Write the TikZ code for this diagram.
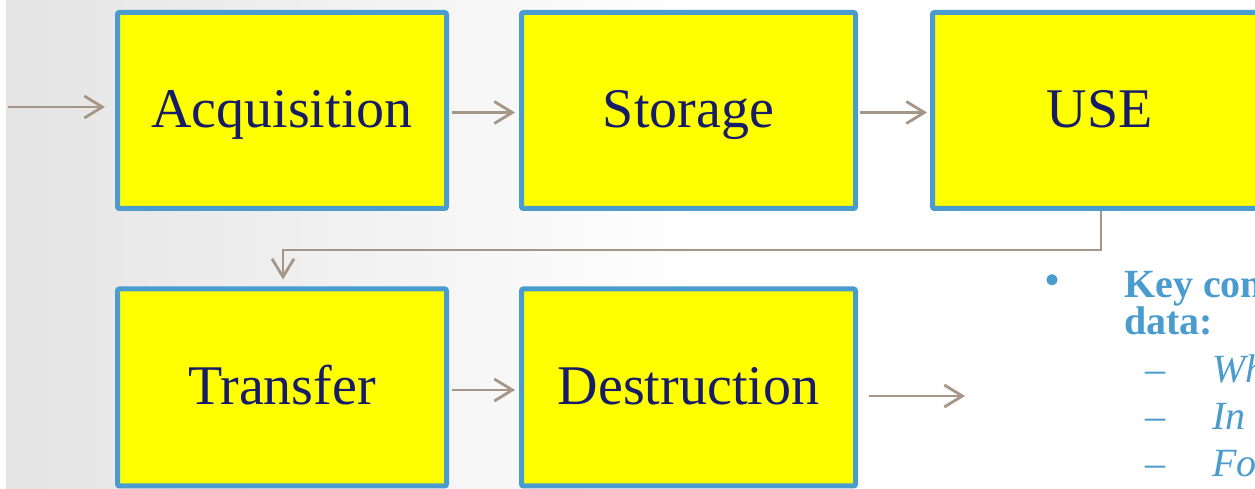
\documentclass[tikz,border=0pt]{standalone}
\usepackage{fontspec}
\setmainfont{Liberation Serif}
\usetikzlibrary{arrows.meta,calc}
\definecolor{boxblue}{RGB}{74,156,207}
\definecolor{boxfill}{RGB}{255,255,0}
\definecolor{navy}{RGB}{22,28,104}
\definecolor{flowgray}{RGB}{166,150,135}
\definecolor{bggray}{RGB}{228,228,228}
\tikzset{
  stage/.style={draw=boxblue,fill=boxfill,line width=5pt,rounded corners=2pt,
    text=navy,font=\fontsize{56}{60}\selectfont,inner sep=0pt,
    text height=40pt,text depth=5pt},
  flow/.style={draw=flowgray,line width=2.8pt,
    -{Straight Barb[length=18pt,width=22pt,line width=2.8pt]}},
  note/.style={text=boxblue,inner sep=0pt,anchor=base west},
}
\begin{document}
\begin{tikzpicture}[x=1pt,y=1pt]
\useasboundingbox (0,0) rectangle (1255,489);
\clip (0,0) rectangle (1255,489);
% page background
\fill[white] (0,0) rectangle (1255,489);
\shade[left color=bggray,right color=white] (6,0) rectangle (700,489);

% stages of the data life cycle
\node[stage,minimum width=329pt,minimum height=196pt] (acq) at (282,378.5) {Acquisition};
\node[stage,minimum width=334pt,minimum height=196pt] (sto) at (688.5,378.5) {Storage};
\node[stage,minimum width=334pt,minimum height=196pt] (use) at (1099.5,378.5) {USE};
\node[stage,minimum width=329pt,minimum height=197pt] (tra) at (282,101.5) {Transfer};
\node[stage,minimum width=334pt,minimum height=197pt] (des) at (688.5,101.5) {Destruction};

% connectors
\coordinate (in) at (8,382);
\coordinate (out) at (965,93);
\draw[flow,shorten >=10pt] (in) -- (in -| acq.west);
\draw[flow,shorten <=3pt,shorten >=4pt] ([yshift=-2pt]acq.east) -- ([yshift=-2pt]sto.west);
\draw[flow,shorten <=2pt,shorten >=3pt] ([yshift=-2pt]sto.east) -- ([yshift=-2pt]use.west);
\draw[flow,shorten >=7pt] ([xshift=1.5pt]use.south) |- ++(0,-39) -| ([xshift=1pt]tra.north);
\draw[flow,shorten <=3pt,shorten >=4pt] ([yshift=-2.5pt]tra.east) -- ([yshift=-2.5pt]des.west);
\draw[flow,shorten <=11pt] (des.east |- out) -- (out);

% key concerns list
\node[text=boxblue,font=\fontsize{40}{40}\selectfont\bfseries] (bul) at (1052,205) {\textbullet};
\node[note,font=\fontsize{40}{40}\selectfont\bfseries] (k1) at (1124,191) {Key considerations for};
\node[note,font=\fontsize{40}{40}\selectfont\bfseries] (k2) at (1124,154) {data:};
\node[note,font=\fontsize{40}{40}\selectfont] (d1) at (1145,106) {–};
\node[note,font=\fontsize{40}{40}\selectfont] (d2) at (1145,59) {–};
\node[note,font=\fontsize{40}{40}\selectfont] (d3) at (1145,12) {–};
\node[note,font=\fontsize{40}{40}\selectfont\itshape] (i1) at (1212,106) {What};
\node[note,font=\fontsize{40}{40}\selectfont\itshape] (i2) at (1212,59) {In what};
\node[note,font=\fontsize{40}{40}\selectfont\itshape] (i3) at (1212,12) {For};
\end{tikzpicture}
\end{document}
